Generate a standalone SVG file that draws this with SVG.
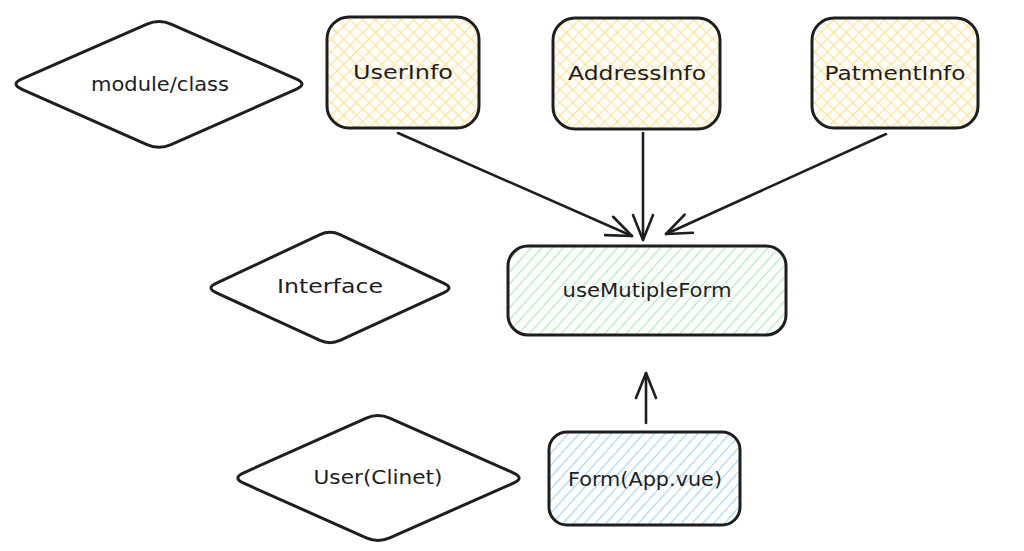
<svg xmlns="http://www.w3.org/2000/svg" width="1024" height="551" viewBox="0 0 1024 551">
  <style>
    .shape { stroke: #1e1e1e; stroke-width: 3; stroke-linejoin: round; }
    .label { font-family: "DejaVu Sans", "Liberation Sans", sans-serif; font-size: 20px; fill: #1e1e1e; text-anchor: middle; }
    .conn { stroke: #1e1e1e; stroke-width: 2.6; fill: none; stroke-linecap: round; }
  </style>
  <defs>
    <pattern id="yellowHatch" width="9" height="9" patternUnits="userSpaceOnUse" patternTransform="rotate(45)">
      <line x1="0" y1="0" x2="0" y2="9" stroke="#ffe08a" stroke-width="2.2"/>
      <line x1="0" y1="0" x2="9" y2="0" stroke="#ffe08a" stroke-width="2.2"/>
    </pattern>
    <pattern id="greenHatch" width="8" height="8" patternUnits="userSpaceOnUse" patternTransform="rotate(42)">
      <line x1="0" y1="0" x2="0" y2="8" stroke="#a8ecb2" stroke-width="2.2"/>
    </pattern>
    <pattern id="blueHatch" width="8" height="8" patternUnits="userSpaceOnUse" patternTransform="rotate(42)">
      <line x1="0" y1="0" x2="0" y2="8" stroke="#9fd3fb" stroke-width="2.2"/>
    </pattern>
    <marker id="arrow" viewBox="0 0 30 24" markerWidth="30" markerHeight="24" refX="27" refY="12" orient="auto" markerUnits="userSpaceOnUse">
      <path d="M2,2 L27,12 L2,22" fill="none" stroke="#1e1e1e" stroke-width="2.6" stroke-linecap="round" stroke-linejoin="round"/>
    </marker>
  </defs>
  <rect width="1024" height="551" fill="#ffffff"/>

  <g id="module-class">
    <path class="shape" fill="#ffffff" d="M22,78.8 L147,24.2 Q159,19 171,24.2 L296,78.8 Q308,84 296,89.3 L171,144.7 Q159,150 147,144.7 L22,89.3 Q10,84 22,78.8 Z"/>
    <text class="label" x="160" y="91" textLength="138" lengthAdjust="spacingAndGlyphs">module/class</text>
  </g>

  <g id="userinfo">
    <rect class="shape" x="327" y="17" width="152" height="111" rx="22" fill="url(#yellowHatch)"/>
    <text class="label" x="403" y="79" textLength="100" lengthAdjust="spacingAndGlyphs">UserInfo</text>
  </g>

  <g id="addressinfo">
    <rect class="shape" x="553" y="18" width="167" height="111" rx="22" fill="url(#yellowHatch)"/>
    <text class="label" x="637" y="80" textLength="138" lengthAdjust="spacingAndGlyphs">AddressInfo</text>
  </g>

  <g id="patmentinfo">
    <rect class="shape" x="812" y="18" width="166" height="110" rx="22" fill="url(#yellowHatch)"/>
    <text class="label" x="895" y="80" textLength="141" lengthAdjust="spacingAndGlyphs">PatmentInfo</text>
  </g>

  <g id="interface">
    <path class="shape" fill="#ffffff" d="M216,283.4 L320,234.6 Q330,230 340,234.6 L444,283.4 Q454,288 444,292.6 L340,340.4 Q330,345 320,340.4 L216,292.6 Q206,288 216,283.4 Z"/>
    <text class="label" x="330" y="293" textLength="106" lengthAdjust="spacingAndGlyphs">Interface</text>
  </g>

  <g id="usemutipleform">
    <rect class="shape" x="508" y="246" width="278" height="89" rx="20" fill="url(#greenHatch)"/>
    <text class="label" x="647" y="297" textLength="169" lengthAdjust="spacingAndGlyphs">useMutipleForm</text>
  </g>

  <g id="user-clinet">
    <path class="shape" fill="#ffffff" d="M243.7,472.8 L366.3,418.2 Q378,413 389.7,418.2 L513.3,472.8 Q525,478 513.3,483.2 L389.7,537.8 Q378,543 366.3,537.8 L243.7,483.2 Q232,478 243.7,472.8 Z"/>
    <text class="label" x="378" y="484" textLength="129" lengthAdjust="spacingAndGlyphs">User(Clinet)</text>
  </g>

  <g id="form-app">
    <rect class="shape" x="549" y="432" width="191" height="93" rx="18" fill="url(#blueHatch)"/>
    <text class="label" x="645" y="486" textLength="154" lengthAdjust="spacingAndGlyphs">Form(App.vue)</text>
  </g>

  <g id="connectors">
    <path class="conn" d="M398,133 L632,236" marker-end="url(#arrow)"/>
    <path class="conn" d="M643,133 L643,240" marker-end="url(#arrow)"/>
    <path class="conn" d="M886,134 L666,234" marker-end="url(#arrow)"/>
    <path class="conn" d="M646,423 L646,373" marker-end="url(#arrow)"/>
  </g>
</svg>
